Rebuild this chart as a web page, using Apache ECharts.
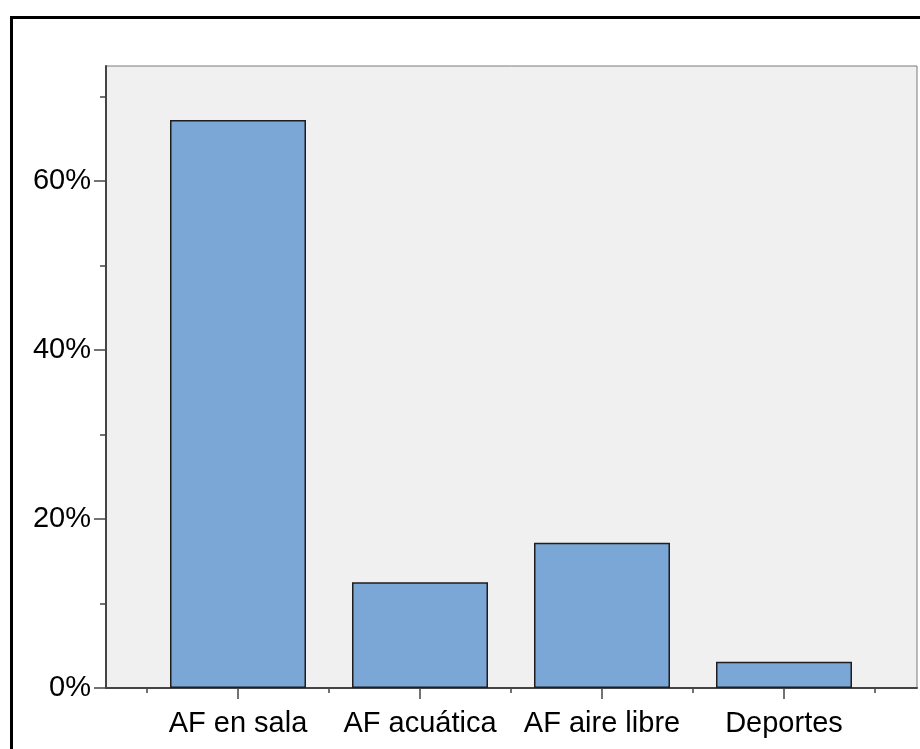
<!DOCTYPE html>
<html>
<head>
<meta charset="utf-8">
<script src="https://cdn.jsdelivr.net/npm/echarts@6/dist/echarts.min.js"></script>
<style>
html,body{margin:0;padding:0;background:#fff;overflow:hidden;}
#chart{width:920px;height:749px;}
</style>
</head>
<body>
<div id="chart"></div>
<script>
// Data
var categories = ['AF en sala', 'AF acuática', 'AF aire libre', 'Deportes'];
var values = [67.2, 12.5, 17.2, 3.1];
var yTickLabels = [0, 20, 40, 60];
var yMinorTicks = [10, 30, 50, 70];

var catIdx = categories.map(function (c, i) { return i; });
var boundaries = [-0.5, 0.5, 1.5, 2.5, 3.5];
var FONT = "'Liberation Sans', Arial, sans-serif";

var chart = echarts.init(document.getElementById('chart'), null, {renderer: 'canvas'});
chart.setOption({
  animation: false,
  backgroundColor: '#ffffff',
  graphic: [{
    type: 'rect',
    shape: {x: 11.5, y: 17.5, width: 1000, height: 1000},
    style: {fill: 'none', stroke: '#000', lineWidth: 3},
    silent: true, z: 100
  }],
  grid: {
    left: 106, top: 66, width: 811, height: 622,
    show: true, backgroundColor: '#f0f0f0',
    borderColor: '#7a7a7a', borderWidth: 1
  },
  xAxis: [{
    type: 'value', min: -0.7253, max: 3.7308, position: 'bottom',
    axisLine: {show: true, onZero: false, lineStyle: {color: '#444', width: 2}},
    axisTick: {show: true, customValues: catIdx, length: 11, lineStyle: {color: '#444', width: 1.5}},
    axisLabel: {show: true, customValues: catIdx, margin: 21, color: '#000', fontSize: 29, fontFamily: FONT,
      formatter: function (v) { return categories[Math.round(v)]; }},
    splitLine: {show: false}
  }, {
    type: 'value', min: -0.7253, max: 3.7308, position: 'bottom',
    axisLine: {show: false, onZero: false},
    axisTick: {show: true, customValues: boundaries, length: 5, lineStyle: {color: '#444', width: 1.5}},
    axisLabel: {show: false},
    splitLine: {show: false}
  }],
  yAxis: [{
    type: 'value', min: 0, max: 73.6, position: 'left',
    axisLine: {show: true, onZero: false, lineStyle: {color: '#444', width: 2}},
    axisTick: {show: true, customValues: yTickLabels, length: 12, lineStyle: {color: '#444', width: 1.5}},
    axisLabel: {show: true, customValues: yTickLabels, margin: 15, color: '#000', fontSize: 29, fontFamily: FONT,
      formatter: function (v) { return v + '%'; }},
    splitLine: {show: false}
  }, {
    type: 'value', min: 0, max: 73.6, position: 'left',
    axisLine: {show: false, onZero: false},
    axisTick: {show: true, customValues: yMinorTicks, length: 6, lineStyle: {color: '#444', width: 1.5}},
    axisLabel: {show: false},
    splitLine: {show: false}
  }],
  series: [{
    type: 'bar',
    xAxisIndex: 0, yAxisIndex: 0,
    barWidth: 136,
    data: values.map(function (v, i) { return [i, v]; }),
    itemStyle: {color: '#7ba7d6', borderColor: '#1e1e1e', borderWidth: 1.5}
  }]
});
</script>
</body>
</html>
